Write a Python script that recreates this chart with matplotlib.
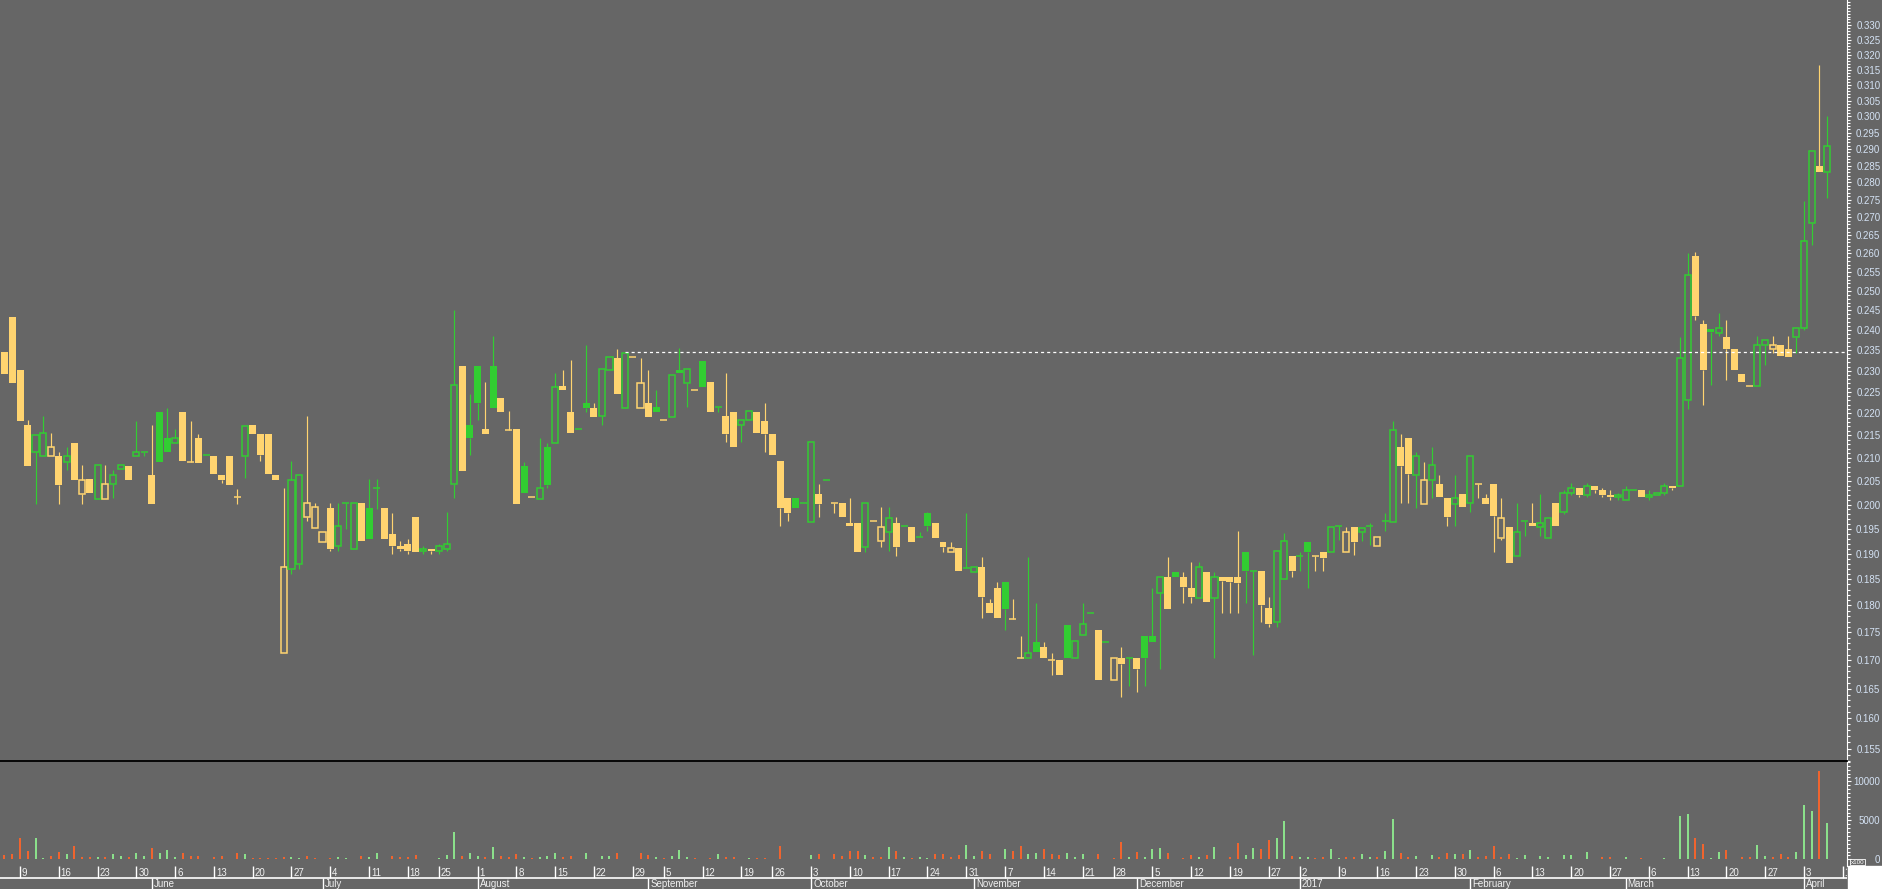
import matplotlib.pyplot as plt
import numpy as np
import pandas as pd
from matplotlib.ticker import FixedLocator, FormatStrFormatter, NullFormatter

plt.rcParams['font.family'] = ['Liberation Sans', 'DejaVu Sans']
plt.rcParams['lines.scale_dashes'] = False

# trading days; no trades were recorded on the dropped days
no_trade = ['2016-07-22', '2016-08-31', '2016-09-23', '2016-11-24', '2016-12-26']
dates = pd.bdate_range('2016-05-05', '2017-04-06').drop(pd.to_datetime(no_trade))

opens = [
    .2345, .2433, .2302, .2173, .2113, .2103, .2103, .2104, .2092, .2133,
    .2023, .2054, .2011, .2011, .2043, .2075, .2083, .2103, .2114, .2063,
    .2203, .2144, .2132, .2203, .2091, .2144, .2106, .2104, .2063, .2104,
    .2015, .2103, .2173, .2152, .2152, .2063, .1713, .1870, .1880, .1974,
    .1952, .1923, .1993, .1915, .2003, .1910, .2003, .1993, .2035, .1993,
    .1940, .1915, .1920, .1974, .1905, .1910, .1905, .1910, .2043, .2312,
    .2173, .2312, .2164, .2312, .2235, .2163, .2164, .2083, .2015, .2012,
    .2123, .2133, .2263, .2204, .2164, .2224, .2213, .2193, .2301, .2332,
    .2213, .2333, .2213, .2224, .2214, .2185, .2192, .2302, .2272, .2254,
    .2324, .2273, .2214, .2193, .2203, .2173, .2185, .2203, .2182, .2152,
    .2093, .2014, .2014, .2003, .1963, .2023, .2053, .2003, .2003, .1962,
    .1962, .1914, .1965, .1926, .1943, .1962, .1955, .1953, .1933, .1983,
    .1962, .1923, .1904, .1912, .1872, .1864, .1874, .1804, .1834, .1845,
    .1775, .1703, .1703, .1733, .1724, .1700, .1700, .1763, .1703, .1745,
    .1785, .1754, .1733, .1665, .1703, .1703, .1703, .1743, .1743, .1823,
    .1855, .1864, .1855, .1834, .1814, .1864, .1814, .1855, .1855, .1855,
    .1903, .1866, .1865, .1795, .1770, .1850, .1895, .1895, .1923, .1895,
    .1904, .1904, .1955, .1904, .1953, .1943, .1955, .1916, .1965, .1963,
    .2124, .2144, .2063, .2002, .2053, .2044, .2014, .2002, .2023, .2003,
    .2043, .2014, .2043, .1932, .1953, .1895, .1965, .1962, .1953, .1932,
    .2003, .1985, .2025, .2035, .2020, .2040, .2030, .2020, .2015, .2010,
    .2030, .2030, .2015, .2020, .2025, .2040, .2040, .2230, .2593, .2415,
    .2403, .2392, .2383, .2353, .2293, .2263, .2263, .2363, .2354, .2363,
    .2353, .2383, .2405, .2683, .2850, .2831,
]
highs = [
    .2345, .2433, .2302, .2185, .2150, .2194, .2155, .2113, .2124, .2133,
    .2085, .2054, .2085, .2085, .2073, .2085, .2083, .2183, .2114, .2173,
    .2203, .2212, .2165, .2203, .2183, .2153, .2106, .2104, .2063, .2104,
    .2032, .2172, .2173, .2152, .2152, .2063, .2035, .2094, .2062, .2194,
    .2004, .1943, .2003, .2003, .2003, .2003, .2003, .2055, .2055, .1993,
    .1983, .1925, .1930, .1974, .1915, .1910, .1920, .1985, .2452, .2312,
    .2244, .2312, .2273, .2385, .2235, .2205, .2164, .2090, .2015, .2144,
    .2133, .2294, .2302, .2325, .2164, .2363, .2224, .2304, .2333, .2354,
    .2342, .2333, .2332, .2302, .2254, .2185, .2290, .2355, .2305, .2254,
    .2324, .2273, .2214, .2294, .2203, .2185, .2205, .2203, .2224, .2152,
    .2093, .2014, .2014, .2003, .2134, .2043, .2053, .2003, .2003, .2014,
    .1962, .2003, .1965, .1995, .1995, .1975, .1955, .1953, .1943, .1985,
    .1962, .1923, .1923, .1912, .1983, .1874, .1893, .1813, .1845, .1845,
    .1813, .1744, .1893, .1804, .1733, .1713, .1700, .1763, .1734, .1804,
    .1785, .1754, .1733, .1703, .1724, .1703, .1703, .1743, .1834, .1855,
    .1893, .1864, .1864, .1884, .1884, .1864, .1864, .1855, .1855, .1945,
    .1903, .1866, .1866, .1815, .1905, .1942, .1895, .1904, .1923, .1895,
    .1904, .1953, .1955, .1953, .1953, .1952, .1962, .1933, .1983, .2183,
    .2152, .2144, .2113, .2092, .2123, .2063, .2014, .2063, .2023, .2103,
    .2043, .2023, .2043, .2014, .1953, .2003, .1965, .2003, .2023, .1973,
    .2003, .2030, .2045, .2035, .2045, .2040, .2035, .2030, .2025, .2040,
    .2030, .2030, .2030, .2025, .2045, .2040, .2383, .2601, .2603, .2425,
    .2403, .2443, .2425, .2353, .2293, .2263, .2385, .2375, .2385, .2363,
    .2385, .2404, .2747, .2893, .3165, .3002,
]
lows = [
    .2293, .2272, .2183, .2083, .2002, .2103, .2103, .2002, .2074, .2053,
    .2002, .2025, .2011, .2011, .2014, .2075, .2052, .2103, .2104, .2002,
    .2092, .2113, .2132, .2094, .2091, .2088, .2106, .2065, .2045, .2042,
    .2002, .2057, .2154, .2094, .2065, .2053, .1713, .1860, .1870, .1965,
    .1952, .1923, .1905, .1905, .1950, .1910, .1925, .1930, .1990, .1930,
    .1900, .1905, .1900, .1903, .1900, .1900, .1900, .1905, .2013, .2072,
    .2106, .2185, .2154, .2213, .2203, .2163, .2001, .2025, .2015, .2012,
    .2034, .2133, .2254, .2155, .2164, .2204, .2192, .2173, .2301, .2244,
    .2213, .2333, .2213, .2192, .2204, .2185, .2192, .2294, .2215, .2254,
    .2262, .2203, .2203, .2135, .2123, .2135, .2185, .2155, .2113, .2106,
    .1955, .1965, .1993, .2003, .1963, .1975, .2053, .1983, .1975, .1955,
    .1904, .1904, .1965, .1914, .1905, .1895, .1955, .1924, .1933, .1945,
    .1932, .1904, .1904, .1865, .1872, .1864, .1776, .1785, .1776, .1754,
    .1775, .1703, .1703, .1714, .1703, .1673, .1673, .1703, .1703, .1745,
    .1785, .1665, .1733, .1665, .1635, .1655, .1645, .1655, .1733, .1684,
    .1794, .1855, .1805, .1805, .1814, .1807, .1704, .1786, .1786, .1786,
    .1805, .1710, .1770, .1760, .1760, .1850, .1855, .1865, .1834, .1865,
    .1865, .1904, .1927, .1904, .1898, .1925, .1917, .1916, .1945, .1963,
    .2004, .2004, .1993, .2002, .2013, .2015, .1955, .1955, .1994, .1985,
    .2014, .2002, .1904, .1927, .1882, .1895, .1935, .1955, .1935, .1932,
    .1955, .1980, .2020, .2015, .2015, .2025, .2015, .2010, .2010, .2010,
    .2030, .2015, .2010, .2020, .2020, .2030, .2040, .2210, .2425, .2220,
    .2265, .2386, .2277, .2302, .2273, .2263, .2263, .2315, .2343, .2336,
    .2333, .2343, .2400, .2624, .2831, .2756,
]
closes = [
    .2293, .2272, .2183, .2083, .2150, .2155, .2123, .2042, .2103, .2053,
    .2051, .2025, .2085, .2043, .2062, .2085, .2052, .2114, .2114, .2002,
    .2092, .2113, .2144, .2094, .2091, .2088, .2106, .2065, .2053, .2042,
    .2015, .2172, .2154, .2106, .2065, .2053, .1873, .2053, .2062, .2003,
    .1994, .1943, .1910, .1955, .2003, .2003, .1925, .1930, .2035, .1930,
    .1915, .1910, .1905, .1903, .1910, .1905, .1915, .1920, .2265, .2072,
    .2143, .2225, .2154, .2213, .2203, .2163, .2001, .2025, .2015, .2035,
    .2041, .2262, .2254, .2155, .2164, .2213, .2192, .2304, .2333, .2244,
    .2342, .2333, .2272, .2192, .2204, .2185, .2290, .2294, .2305, .2254,
    .2262, .2203, .2214, .2154, .2123, .2185, .2205, .2155, .2153, .2106,
    .1993, .1983, .1993, .2003, .2134, .2002, .2053, .2003, .1975, .1955,
    .1904, .2003, .1965, .1953, .1973, .1914, .1955, .1924, .1933, .1955,
    .1932, .1914, .1912, .1865, .1872, .1874, .1815, .1785, .1776, .1794,
    .1775, .1703, .1713, .1714, .1703, .1700, .1673, .1703, .1734, .1765,
    .1785, .1665, .1733, .1703, .1693, .1703, .1684, .1703, .1733, .1855,
    .1794, .1855, .1835, .1815, .1874, .1807, .1854, .1846, .1844, .1842,
    .1865, .1866, .1800, .1765, .1905, .1925, .1865, .1895, .1904, .1895,
    .1892, .1953, .1955, .1943, .1924, .1952, .1955, .1933, .1965, .2163,
    .2083, .2065, .2103, .2053, .2085, .2015, .1974, .2014, .1994, .2103,
    .2043, .2002, .1976, .1972, .1882, .1943, .1965, .1955, .1962, .1973,
    .1955, .2025, .2035, .2020, .2040, .2030, .2020, .2015, .2020, .2030,
    .2030, .2015, .2020, .2025, .2040, .2035, .2332, .2541, .2435, .2302,
    .2394, .2405, .2354, .2302, .2273, .2263, .2363, .2375, .2363, .2336,
    .2333, .2404, .2634, .2893, .2831, .2910,
]
# volume in hundreds of shares
volume = [
    520, 650, 2730, 1040, 2730, 170, 390, 910, 650, 1650,
    260, 260, 260, 260, 650, 390, 260, 780, 390, 1430,
    780, 1170, 260, 780, 390, 390, 60, 260, 390, 60,
    780, 650, 130, 130, 130, 130, 260, 260, 130, 390,
    130, 60, 130, 260, 130, 60, 390, 260, 780, 60,
    390, 260, 260, 520, 60, 60, 130, 520, 3510, 390,
    780, 390, 260, 1560, 390, 260, 650, 260, 130, 260,
    390, 780, 260, 390, 60, 780, 60, 390, 390, 780,
    60, 60, 780, 520, 260, 130, 390, 1170, 260, 130,
    60, 130, 650, 260, 260, 60, 130, 130, 130, 60,
    1690, 40, 40, 40, 520, 650, 60, 650, 390, 1040,
    1040, 520, 260, 260, 1560, 1040, 260, 130, 260, 130,
    650, 650, 260, 520, 1820, 390, 1040, 650, 60, 1300,
    1040, 1690, 650, 780, 1300, 650, 520, 780, 260, 650,
    60, 650, 60, 130, 2210, 260, 910, 260, 1300, 1430,
    780, 60, 130, 520, 260, 520, 1560, 60, 260, 2080,
    520, 1430, 1300, 2470, 2730, 4940, 390, 300, 300, 180,
    300, 1360, 180, 300, 300, 700, 300, 300, 1100, 5140,
    830, 300, 440, 60, 570, 300, 830, 700, 700, 1230,
    300, 440, 1750, 300, 700, 180, 570, 50, 440, 300,
    50, 570, 570, 50, 970, 50, 300, 300, 0, 300,
    0, 180, 0, 0, 180, 0, 5580, 5840, 2700, 2020,
    180, 970, 1230, 0, 300, 300, 1890, 440, 300, 700,
    300, 970, 7025, 6230, 11300, 4700,
]
ref_level = 0.2345
ref_start = '2016-08-26'
next_monday = '10'

BG = '#666666'
UP = '#32cd32'
DOWN = '#ffd470'
VUP = '#90ee90'
VDOWN = '#ff6428'
LABEL = '#d4e2f4'

W, H = 1883, 889


def box(l, t, r, b):
    return [l / W, 1 - b / H, (r - l) / W, (b - t) / H]


o = np.array(opens)
h = np.array(highs)
lo = np.array(lows)
c = np.array(closes)
v = np.array(volume)
x = np.arange(len(c))

prev = np.concatenate([[c[0] + 1], c[:-1]])
up = c >= prev
col = np.where(up, UP, DOWN)
top = np.maximum(o, c)
bot = np.minimum(o, c)
flat = o == c
hollow = c > o
filled = c < o

fig = plt.figure(figsize=(W / 100, H / 100), dpi=100, facecolor=BG)
ax = fig.add_axes(box(0, 0, 1847, 761), facecolor=BG)
axv = fig.add_axes(box(0, 761, 1847, 866), facecolor=BG)
axd = fig.add_axes(box(0, 866, 1847, 889), facecolor=BG)

xl = (-0.58, 237.55)

# candles
ax.set_yscale('log')
ax.vlines(x, lo, bot, colors=col, lw=0.85)
ax.vlines(x, top, h, colors=col, lw=0.85)
ax.bar(x[filled], (top - bot)[filled], bottom=bot[filled], width=0.9,
       color=col[filled], edgecolor='none')
ax.bar(x[hollow], (top - bot)[hollow], bottom=bot[hollow], width=0.78,
       facecolor=BG, edgecolor=col[hollow], lw=1.1)
ax.hlines(c[flat], x[flat] - 0.45, x[flat] + 0.45, colors=col[flat], lw=1.1)

ref_x = dates.get_loc(pd.Timestamp(ref_start))
ax.hlines(ref_level, ref_x, xl[1], colors='white', lw=0.9, linestyles=(0, (2.2, 2.2)))

ax.set_xlim(*xl)
ax.set_ylim(0.1530, 0.3388)
ax.set_xticks([])
ax.yaxis.tick_right()
ax.yaxis.set_major_locator(FixedLocator(np.arange(0.155, 0.3301, 0.005)))
ax.yaxis.set_major_formatter(FormatStrFormatter('%.3f'))
ax.yaxis.set_minor_locator(FixedLocator(np.arange(0.153, 0.339, 0.001)))
ax.yaxis.set_minor_formatter(NullFormatter())
ax.tick_params(axis='y', which='major', colors='white', labelcolor=LABEL,
               length=3, width=0.8, pad=21, labelsize=7)
ax.tick_params(axis='y', which='minor', colors='white', length=2, width=0.8)
for t in ax.get_yticklabels():
    t.set_horizontalalignment('right')
for s in ['left', 'top', 'bottom']:
    ax.spines[s].set_visible(False)
ax.spines['right'].set_color('white')
ax.spines['right'].set_linewidth(0.8)

# volume
vcol = np.where(up, VUP, VDOWN)
axv.vlines(x, 0, v, colors=vcol, lw=1.3)
axv.set_xlim(*xl)
axv.set_ylim(-859, 12603)
axv.set_xticks([])
axv.yaxis.tick_right()
axv.yaxis.set_major_locator(FixedLocator([0, 5000, 10000]))
axv.yaxis.set_minor_locator(FixedLocator(np.arange(0, 12600, 500)))
axv.tick_params(axis='y', which='major', colors='white', labelcolor=LABEL,
                length=3, width=0.8, pad=21, labelsize=7)
axv.tick_params(axis='y', which='minor', colors='white', length=2, width=0.8)
for t in axv.get_yticklabels():
    t.set_horizontalalignment('right')
for s in ['left', 'bottom']:
    axv.spines[s].set_visible(False)
axv.spines['top'].set_color('black')
axv.spines['top'].set_linewidth(1.3)
axv.spines['right'].set_color('white')
axv.spines['right'].set_linewidth(0.8)
fig.text(1851 / W, 1 - 862 / H, 'x100', fontsize=4.5, color='white', va='center',
         bbox=dict(facecolor='none', edgecolor='white', lw=0.6, pad=0.5))

# date strip
axd.set_xlim(*xl)
axd.set_ylim(0, 23)
axd.axis('off')
axd.axhline(11, color='white', lw=1.2)
weeks = dates.to_period('W')
first_of_week = np.flatnonzero(~weeks.duplicated())[1:]
for i in first_of_week:
    axd.vlines(i, 11, 23, colors='white', lw=1.0)
    axd.text(i + 0.25, 16.5, str(dates[i].day), color='#f0f0f0', fontsize=7,
             va='center', ha='left')
axd.vlines(237, 11, 23, colors='white', lw=1.0)
axd.text(237.25, 16.5, next_monday, color='#f0f0f0', fontsize=7, va='center',
         ha='left', clip_on=True)
months = dates.to_period('M')
first_of_month = np.flatnonzero(~months.duplicated())[1:]
for i in first_of_month:
    d = dates[i]
    name = str(d.year) if d.month == 1 else d.strftime('%B')
    axd.vlines(i, 0, 11, colors='white', lw=1.0)
    axd.text(i + 0.25, 4.8, name, color='#f0f0f0', fontsize=7, va='center', ha='left')

fig.add_artist(plt.Rectangle((1848 / W, 0), 1 - 1848 / W, 23 / H,
                             transform=fig.transFigure, color='white', zorder=5))

fig.savefig('out.png', dpi=100, facecolor=BG)
